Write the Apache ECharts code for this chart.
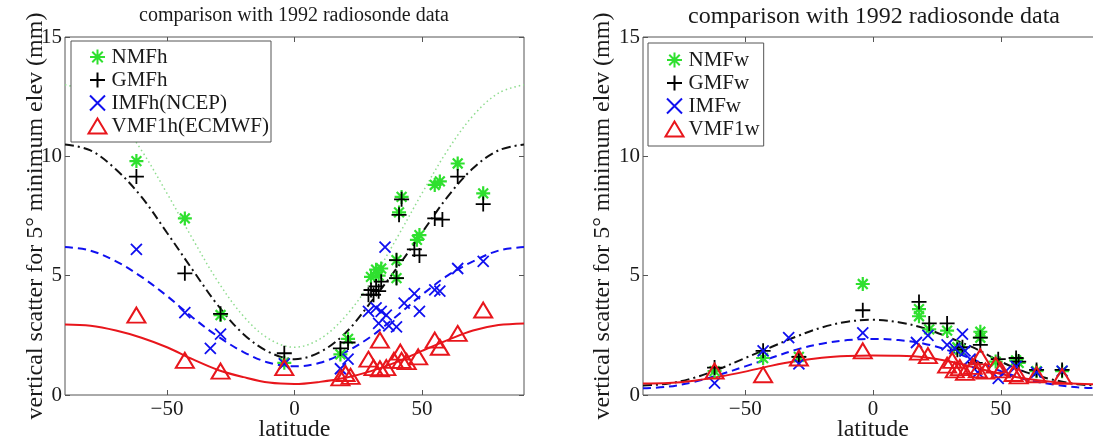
<!DOCTYPE html>
<html>
<head>
<meta charset="utf-8">
<script src="https://cdn.jsdelivr.net/npm/echarts@6/dist/echarts.min.js"></script>
<style>
  html, body { margin: 0; padding: 0; background: #fff; }
  #chart { width: 1093px; height: 443px; }
</style>
</head>
<body>
<div id="chart"></div>
<script>
// Latitudes at which the model curves are sampled
const curveLat = [-90, -80, -70, -60, -50, -40, -30, -20, -10, 0, 10, 20, 30, 40, 50, 60, 70, 80, 90];

// Hydrostatic mapping functions: modelled scatter (mm)
const nmfhCurve = [13.0, 12.65, 11.7, 10.25, 8.45, 6.55, 4.75, 3.3, 2.35, 2.0, 2.35, 3.3, 4.75, 6.55, 8.45, 10.25, 11.7, 12.65, 13.0];
const gmfhCurve = [10.5, 10.25, 9.45, 8.3, 6.8, 5.25, 3.75, 2.55, 1.8, 1.5, 1.8, 2.6, 3.9, 5.3, 6.8, 8.3, 9.5, 10.25, 10.5];
const imfhCurve = [6.2, 6.05, 5.6, 4.95, 4.15, 3.25, 2.45, 1.8, 1.35, 1.2, 1.35, 1.8, 2.45, 3.3, 4.2, 5.0, 5.6, 6.05, 6.2];
const vmfhCurve = [2.95, 2.9, 2.7, 2.4, 2.0, 1.5, 1.05, 0.75, 0.52, 0.46, 0.55, 0.72, 1.0, 1.38, 1.85, 2.3, 2.7, 2.93, 3.0];

// Wet mapping functions: modelled scatter (mm)
const gmfwCurve = [0.4, 0.48, 0.72, 1.1, 1.55, 2.0, 2.45, 2.83, 3.07, 3.15, 3.05, 2.8, 2.4, 1.95, 1.4, 0.95, 0.65, 0.45, 0.4];
const imfwCurve = [0.28, 0.35, 0.55, 0.85, 1.2, 1.55, 1.9, 2.15, 2.3, 2.35, 2.3, 2.15, 1.85, 1.45, 1.0, 0.65, 0.45, 0.32, 0.28];
const vmfwCurve = [0.48, 0.5, 0.6, 0.77, 0.98, 1.22, 1.42, 1.56, 1.63, 1.65, 1.64, 1.58, 1.4, 1.15, 0.88, 0.68, 0.55, 0.47, 0.45];

// Radiosonde stations: [latitude, vertical scatter (mm)]
const nmfhPts = [[-62, 9.8], [-43, 7.4], [-29, 3.35], [-4, 1.35], [18, 1.7], [21, 2.35], [30, 4.95], [32, 5.25], [34, 5.3], [33, 5.0],
  [40, 4.9], [40, 5.65], [41, 7.65], [42, 8.3], [48, 6.5], [49, 6.7], [55, 8.8], [57, 8.95], [64, 9.7], [74, 8.45]];
const gmfhPts = [[-62, 9.15], [-43, 5.1], [-29, 3.4], [-4, 1.75], [18, 1.95], [21, 2.2], [29, 4.2], [30, 4.4], [31, 4.2], [32, 4.55],
  [33, 4.35], [34, 4.75], [40, 4.9], [40, 5.65], [41, 7.55], [42, 8.2], [47, 6.1], [49, 5.85], [55, 7.4], [58, 7.35], [64, 9.15], [74, 8.0]];
const imfhPts = [[-62, 6.1], [-43, 3.45], [-33, 1.95], [-29, 2.55], [-4, 1.3], [18, 1.1], [21, 1.5], [29, 3.5], [32, 3.65], [34, 3.5],
  [33, 3.0], [36, 3.35], [35.5, 6.2], [37, 2.9], [40, 2.85], [43, 3.85], [47, 4.25], [49, 3.5], [55, 4.4], [57, 4.35], [64, 5.3], [74, 5.6]];
const vmfhPts = [[-62, 3.35], [-43, 1.45], [-29, 1.0], [-4, 1.15], [18, 0.72], [20, 0.9], [22, 0.78], [29, 1.5], [31, 1.15], [33.5, 2.3],
  [33.5, 1.1], [36, 1.15], [39, 1.45], [41.5, 1.8], [42, 1.45], [44, 1.4], [48.5, 1.6], [55, 2.3], [57, 2.0], [64, 2.58], [74, 3.56]];

const nmfwPts = [[-62, 1.0], [-43, 1.55], [-29, 1.6], [-4, 4.65], [18, 3.6], [18, 3.3], [22, 2.75], [29, 2.7], [33, 2.0], [34, 1.9],
  [42, 2.65], [42, 2.4], [48, 1.4], [56, 1.45], [57, 1.35], [64, 1.0], [74, 1.0]];
const gmfwPts = [[-62, 1.15], [-43, 1.85], [-29, 1.6], [-4, 3.55], [18, 3.9], [22, 3.0], [29, 3.0], [33, 1.9], [35, 2.0], [40, 1.35],
  [42, 2.4], [42, 2.1], [49, 1.5], [56, 1.55], [57, 1.4], [64, 1.05], [74, 1.05]];
const imfwPts = [[-62, 0.5], [-43, 1.85], [-33, 2.4], [-29, 1.3], [-4, 2.6], [17, 2.2], [21.5, 2.5], [29, 2.1], [32, 1.95], [35, 2.55],
  [36, 1.85], [38, 1.5], [41, 0.95], [49, 0.7], [52, 1.0], [56, 1.2], [64, 0.95], [74, 1.0]];
const vmfwPts = [[-62, 1.0], [-43, 0.85], [-29, 1.55], [-4, 1.85], [18, 1.8], [21.5, 1.65], [29, 1.25], [31, 1.45], [32, 1.05], [34, 1.15],
  [36, 0.95], [39, 1.2], [41, 1.05], [42, 1.6], [44, 1.0], [48, 1.25], [50, 1.05], [55, 0.9], [57, 0.8], [64, 0.85], [74, 0.78]];

const xTicks = [-50, 0, 50];
const titleText = 'comparison with 1992 radiosonde data';
const yName = 'vertical scatter for 5° minimum elev (mm)';
const xName = 'latitude';
const hydroNames = ['NMFh', 'GMFh', 'IMFh(NCEP)', 'VMF1h(ECMWF)'];
const wetNames = ['NMFw', 'GMFw', 'IMFw', 'VMF1w'];

const FONT = 'Liberation Serif';
const AXIS = '#555';
const TEXT = '#1a1a1a';
const GREEN = '#2fe02f';
const BLUE = '#1010f0';
const RED = '#e8161c';

const SYM_ASTERISK = 'path://M5,0L5,10M0,5L10,5M1.5,1.5L8.5,8.5M1.5,8.5L8.5,1.5';
const SYM_PLUS = 'path://M0,5L10,5M5,0L5,10';
const SYM_CROSS = 'path://M0,0L10,10M0,10L10,0';

const pair = (xs, ys) => xs.map((x, i) => [x, ys[i]]);

function curve(name, ys, color, type, width, ai) {
  return {
    type: 'line', name: name, xAxisIndex: ai, yAxisIndex: ai,
    data: pair(curveLat, ys), smooth: 0.35, showSymbol: false, symbol: 'none',
    lineStyle: { color: color, type: type, width: width }, silent: true, z: 2
  };
}

function marks(name, pts, sym, size, color, width, ai) {
  return {
    type: 'scatter', name: name, xAxisIndex: ai, yAxisIndex: ai,
    data: pts, symbol: sym, symbolSize: size, symbolKeepAspect: true,
    itemStyle: { color: 'none', borderColor: color, borderWidth: width, opacity: 1 },
    silent: true, z: 3
  };
}

const tickStyle = { inside: true, length: 5, lineStyle: { color: AXIS } };
const nameStyle = { fontFamily: FONT, fontSize: 24, color: TEXT };
const labelStyle = { fontFamily: FONT, fontSize: 21, color: TEXT, fontWeight: 'normal' };

function xAxes(gi) {
  return [
    {
      gridIndex: gi, type: 'value', min: -90, max: 90, position: 'bottom',
      name: xName, nameLocation: 'middle', nameGap: 23, nameMoveOverlap: false, nameTextStyle: nameStyle,
      axisLine: { show: false, onZero: false }, splitLine: { show: false },
      axisTick: Object.assign({ customValues: xTicks }, tickStyle),
      axisLabel: Object.assign({
        customValues: xTicks, margin: 4,
        formatter: v => String(v).replace('-', '\u2212')
      }, labelStyle)
    },
    {
      gridIndex: gi, type: 'value', min: -90, max: 90, position: 'top',
      axisLine: { show: false, onZero: false }, splitLine: { show: false }, axisLabel: { show: false },
      axisTick: Object.assign({ customValues: xTicks }, tickStyle)
    }
  ];
}

function yAxes(gi, gap) {
  return [
    {
      gridIndex: gi, type: 'value', min: 0, max: 15, interval: 5, position: 'left',
      name: yName, nameLocation: 'middle', nameGap: gap, nameMoveOverlap: false, nameTextStyle: nameStyle,
      axisLine: { show: false, onZero: false }, splitLine: { show: false },
      axisTick: tickStyle,
      axisLabel: Object.assign({ margin: 3 }, labelStyle)
    },
    {
      gridIndex: gi, type: 'value', min: 0, max: 15, interval: 5, position: 'right',
      axisLine: { show: false, onZero: false }, splitLine: { show: false }, axisLabel: { show: false },
      axisTick: tickStyle
    }
  ];
}

function legendBox(names, left, top, padding) {
  return {
    data: names, orient: 'vertical', left: left, top: top,
    padding: padding, itemGap: 1, itemWidth: 18, itemHeight: 15, itemTextGap: 9,
    backgroundColor: '#fff', borderColor: AXIS, borderWidth: 1, borderRadius: 0,
    selectedMode: false,
    itemStyle: { borderWidth: 2 },
    textStyle: { fontFamily: FONT, fontSize: 21, lineHeight: 22, color: TEXT },
    z: 10
  };
}

const gridBase = { top: 37, height: 358, show: true, borderColor: AXIS, borderWidth: 1,
  backgroundColor: 'transparent', outerBoundsMode: 'none', containLabel: false };

const chart = echarts.init(document.getElementById('chart'), null, { renderer: 'canvas' });

chart.setOption({
  animation: false,
  backgroundColor: '#fff',
  textStyle: { fontFamily: FONT, color: TEXT },
  title: [
    { text: titleText, left: 294, top: 6, padding: 0, textAlign: 'center',
      textStyle: { fontFamily: FONT, fontSize: 20, fontWeight: 'normal', color: TEXT } },
    { text: titleText, left: 874, top: 5, padding: 0, textAlign: 'center',
      textStyle: { fontFamily: FONT, fontSize: 24, fontWeight: 'normal', color: TEXT } }
  ],
  grid: [
    Object.assign({ left: 65, width: 459 }, gridBase),
    Object.assign({ left: 643, width: 460 }, gridBase)
  ],
  xAxis: [...xAxes(0), ...xAxes(1)],
  yAxis: [...yAxes(0, 17), ...yAxes(1, 28)],
  legend: [
    legendBox(hydroNames, 71, 41, [5, 2, 5, 15]),
    legendBox(wetNames, 648, 43, [6, 4, 6, 15])
  ],
  series: [
    curve('NMFh model', nmfhCurve, '#8fdc8f', [1.5, 3], 1.5, 0),
    curve('GMFh model', gmfhCurve, '#111', [9, 4, 2, 4], 2, 0),
    curve('IMFh model', imfhCurve, BLUE, [8, 5], 2, 0),
    curve('VMF1h model', vmfhCurve, RED, 'solid', 2, 0),
    marks('NMFh', nmfhPts, SYM_ASTERISK, 14, GREEN, 2.2, 0),
    marks('GMFh', gmfhPts, SYM_PLUS, 15, '#000', 1.8, 0),
    marks('IMFh(NCEP)', imfhPts, SYM_CROSS, 11, BLUE, 1.8, 0),
    marks('VMF1h(ECMWF)', vmfhPts, 'triangle', [18, 15], RED, 2, 0),

    curve('GMFw model', gmfwCurve, '#111', [9, 4, 2, 4], 2, 2),
    curve('IMFw model', imfwCurve, BLUE, [8, 5], 2, 2),
    curve('VMF1w model', vmfwCurve, RED, 'solid', 2, 2),
    marks('NMFw', nmfwPts, SYM_ASTERISK, 14, GREEN, 2.2, 2),
    marks('GMFw', gmfwPts, SYM_PLUS, 15, '#000', 1.8, 2),
    marks('IMFw', imfwPts, SYM_CROSS, 11, BLUE, 1.8, 2),
    marks('VMF1w', vmfwPts, 'triangle', [18, 15], RED, 2, 2)
  ]
});
</script>
</body>
</html>
